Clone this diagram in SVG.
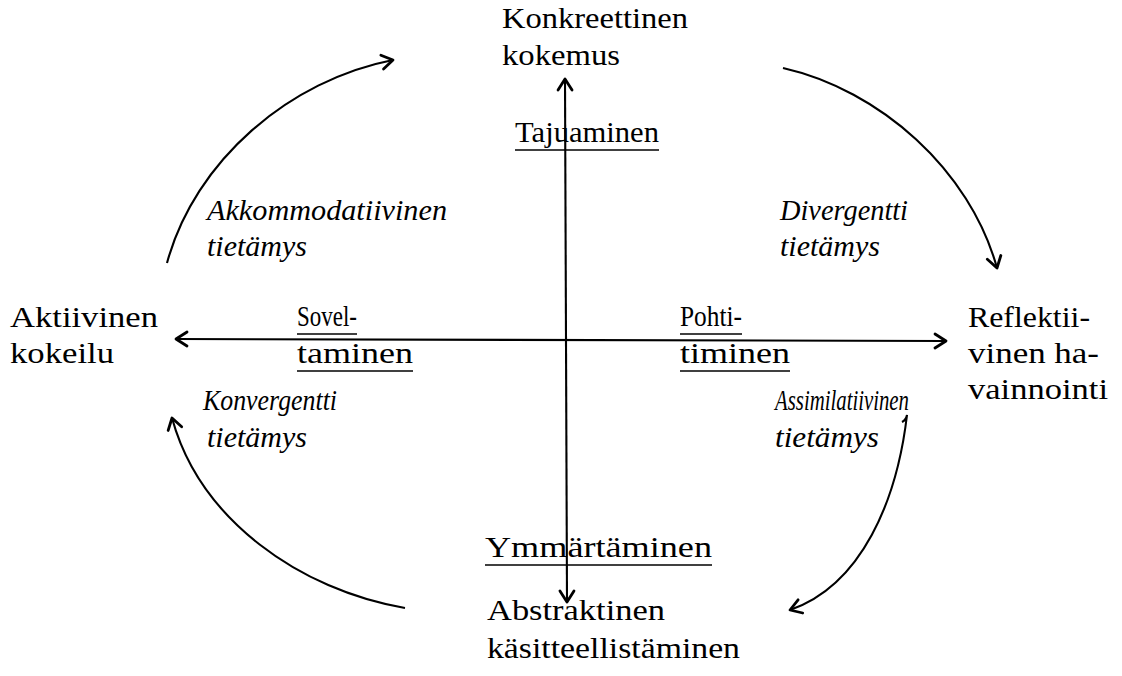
<svg xmlns="http://www.w3.org/2000/svg" width="1122" height="676" viewBox="0 0 1122 676">
<defs>
<marker id="arr" viewBox="-14 -10 16 20" refX="0" refY="0" markerWidth="16" markerHeight="20" markerUnits="userSpaceOnUse" orient="auto-start-reverse">
<path d="M-11,-7 L0,0 L-11,7" fill="none" stroke="#000" stroke-width="2.8" stroke-linecap="round" stroke-linejoin="round"/>
</marker>
<style>
text { font-family: "Liberation Serif", "Times New Roman", serif; font-size: 30px; fill: #000; }
.i { font-style: italic; }
.conn { fill: none; stroke: #000; stroke-width: 2.1; }
.ul { stroke: #000; stroke-width: 1.7; }
</style>
</defs>
<rect width="1122" height="676" fill="#fff"/>

<g id="connectors">
<path class="conn" d="M565,79 L567,602" marker-start="url(#arr)" marker-end="url(#arr)"/>
<path class="conn" d="M176,339 L946,341" marker-start="url(#arr)" marker-end="url(#arr)"/>
<path class="conn" d="M167,263 C195,160 290,80 393,60" marker-end="url(#arr)"/>
<path class="conn" d="M783,68 C880,90 970,170 997,268" marker-end="url(#arr)"/>
<path class="conn" d="M405,608 C300,590 200,520 172,418" marker-end="url(#arr)"/>
<path class="conn" d="M902,422 Q906,420 907,415 C897,500 862,585 790,610" marker-end="url(#arr)"/>
</g>

<g id="node-konkreettinen">
<text x="502" y="28" textLength="186" lengthAdjust="spacingAndGlyphs">Konkreettinen</text>
<text x="502" y="65" textLength="118" lengthAdjust="spacingAndGlyphs">kokemus</text>
</g>
<g id="node-tajuaminen">
<text x="515" y="142" textLength="144" lengthAdjust="spacingAndGlyphs">Tajuaminen</text>
<line class="ul" x1="515" y1="150" x2="659" y2="150"/>
</g>
<g id="node-akkommodatiivinen">
<text class="i" x="207" y="220" textLength="240" lengthAdjust="spacingAndGlyphs">Akkommodatiivinen</text>
<text class="i" x="207" y="256" textLength="100" lengthAdjust="spacingAndGlyphs">tietämys</text>
</g>
<g id="node-divergentti">
<text class="i" x="780" y="220" textLength="128" lengthAdjust="spacingAndGlyphs">Divergentti</text>
<text class="i" x="780" y="256" textLength="100" lengthAdjust="spacingAndGlyphs">tietämys</text>
</g>
<g id="node-aktiivinen">
<text x="10" y="327" textLength="148" lengthAdjust="spacingAndGlyphs">Aktiivinen</text>
<text x="10" y="363" textLength="104" lengthAdjust="spacingAndGlyphs">kokeilu</text>
</g>
<g id="node-soveltaminen">
<text x="297" y="326" textLength="60" lengthAdjust="spacingAndGlyphs">Sovel-</text>
<line class="ul" x1="297" y1="334" x2="357" y2="334"/>
<text x="297" y="363" textLength="116" lengthAdjust="spacingAndGlyphs">taminen</text>
<line class="ul" x1="297" y1="371" x2="413" y2="371"/>
</g>
<g id="node-pohtiminen">
<text x="680" y="326" textLength="62" lengthAdjust="spacingAndGlyphs">Pohti-</text>
<line class="ul" x1="680" y1="334" x2="742" y2="334"/>
<text x="680" y="363" textLength="110" lengthAdjust="spacingAndGlyphs">timinen</text>
<line class="ul" x1="680" y1="371" x2="790" y2="371"/>
</g>
<g id="node-reflektiivinen">
<text x="968" y="327" textLength="122" lengthAdjust="spacingAndGlyphs">Reflektii-</text>
<text x="968" y="363" textLength="131" lengthAdjust="spacingAndGlyphs">vinen ha-</text>
<text x="968" y="399" textLength="140" lengthAdjust="spacingAndGlyphs">vainnointi</text>
</g>
<g id="node-konvergentti">
<text class="i" x="203" y="410" textLength="134" lengthAdjust="spacingAndGlyphs">Konvergentti</text>
<text class="i" x="207" y="447" textLength="100" lengthAdjust="spacingAndGlyphs">tietämys</text>
</g>
<g id="node-assimilatiivinen">
<text class="i" x="775" y="410" textLength="134" lengthAdjust="spacingAndGlyphs">Assimilatiivinen</text>
<text class="i" x="775" y="447" textLength="104" lengthAdjust="spacingAndGlyphs">tietämys</text>
</g>
<g id="node-ymmartaminen">
<text x="485" y="557" textLength="227" lengthAdjust="spacingAndGlyphs">Ymmärtäminen</text>
<line class="ul" x1="485" y1="565" x2="712" y2="565"/>
</g>
<g id="node-abstraktinen">
<text x="487" y="620" textLength="178" lengthAdjust="spacingAndGlyphs">Abstraktinen</text>
<text x="487" y="658" textLength="253" lengthAdjust="spacingAndGlyphs">käsitteellistäminen</text>
</g>
</svg>
